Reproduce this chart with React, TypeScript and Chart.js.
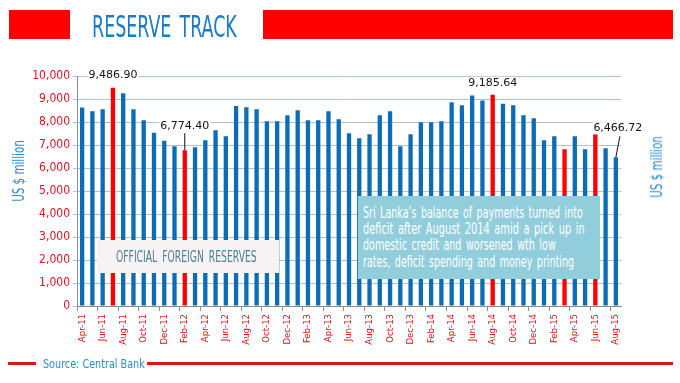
import React, { useEffect, useLayoutEffect, useRef } from "react";
import { Chart, registerables } from "chart.js";

Chart.register(...registerables);

const months: string[] = [
  "Apr-11", "May-11", "Jun-11", "Jul-11", "Aug-11", "Sep-11", "Oct-11", "Nov-11", "Dec-11",
  "Jan-12", "Feb-12", "Mar-12", "Apr-12", "May-12", "Jun-12", "Jul-12", "Aug-12", "Sep-12", "Oct-12", "Nov-12", "Dec-12",
  "Jan-13", "Feb-13", "Mar-13", "Apr-13", "May-13", "Jun-13", "Jul-13", "Aug-13", "Sep-13", "Oct-13", "Nov-13", "Dec-13",
  "Jan-14", "Feb-14", "Mar-14", "Apr-14", "May-14", "Jun-14", "Jul-14", "Aug-14", "Sep-14", "Oct-14", "Nov-14", "Dec-14",
  "Jan-15", "Feb-15", "Mar-15", "Apr-15", "May-15", "Jun-15", "Jul-15", "Aug-15",
];

const reserves: number[] = [
  8630, 8470, 8550, 9486.9, 9250, 8550, 8080, 7530, 7180,
  6950, 6774.4, 6900, 7210, 7640, 7380, 8700, 8640, 8550, 8030, 8030, 8290,
  8510, 8080, 8080, 8470, 8120, 7510, 7290, 7470, 8290, 8470, 6950, 7470,
  7990, 7990, 8030, 8860, 8730, 9150, 8940, 9185.64, 8790, 8730, 8290, 8160,
  7210, 7380, 6820, 7380, 6820, 7470, 6860, 6466.72,
];

const highlighted: string[] = ["Jul-11", "Feb-12", "Aug-14", "Mar-15", "Jun-15"];

const labelledMonths: string[] = ["Jul-11", "Feb-12", "Aug-14", "Aug-15"];
const labelTexts: string[] = ["9,486.90", "6,774.40", "9,185.64", "6,466.72"];

const yTicks: number[] = [0, 1000, 2000, 3000, 4000, 5000, 6000, 7000, 8000, 9000, 10000];

const titleText = "RESERVE TRACK";
const boxLabel = "OFFICIAL FOREIGN RESERVES";
const noteLines: string[] = [
  "Sri Lanka’s balance of payments turned into",
  "deficit after August 2014 amid a pick up in",
  "domestic credit and worsened wth low",
  "rates, deficit spending and money printing",
];
const axisTitleText = "US $ million";
const sourceText = "Source: Central Bank";

const BLUE = "#0d6cb6";
const RED = "#ff0000";
const TICK_RED = "#e3111b";
const GRID = "#a9c3dc";
const AXIS = "#8c8c8c";
const TITLE_BLUE = "#1b7cc0";
const LIGHT_BLUE_TEXT = "#2a8ad0";
const COND = '"DejaVu Sans Condensed", "DejaVu Sans", sans-serif';

// per-label placement (style only): text offset from bar top and optional leader line
const labelStyle: Record<string, { dx: number; dy: number; leader?: [number, number, number, number] }> = {
  "Jul-11": { dx: 0, dy: -13 },
  "Feb-12": { dx: 0, dy: -24, leader: [0, -17, 0, 0] },
  "Aug-14": { dx: 0, dy: -12 },
  "Aug-15": { dx: 2, dy: -29, leader: [4, -21, 0, 0] },
};

const labelPlugin = {
  id: "valueLabels",
  afterDatasetsDraw(chart: any) {
    const ctx = chart.ctx;
    const meta = chart.getDatasetMeta(0);
    ctx.save();
    ctx.font = '11px "DejaVu Sans", Verdana, sans-serif';
    ctx.textAlign = "center";
    ctx.textBaseline = "middle";
    labelledMonths.forEach((m, i) => {
      const idx = months.indexOf(m);
      const bar = meta.data[idx];
      if (!bar) return;
      const st = labelStyle[m];
      const tx = bar.x + st.dx;
      const ty = bar.y + st.dy;
      const text = labelTexts[i];
      const w = ctx.measureText(text).width;
      ctx.fillStyle = "#ffffff";
      ctx.fillRect(tx - w / 2 - 1, ty - 6, w + 2, 12);
      ctx.fillStyle = "#111111";
      ctx.fillText(text, tx, ty);
      if (st.leader) {
        ctx.strokeStyle = "#111111";
        ctx.lineWidth = 1;
        ctx.beginPath();
        ctx.moveTo(bar.x + st.leader[0], bar.y + st.leader[1]);
        ctx.lineTo(bar.x + st.leader[2], bar.y + st.leader[3]);
        ctx.stroke();
      }
    });
    ctx.restore();
  },
};

function FitText(props: { text: string; width: number; style?: React.CSSProperties; origin?: string }) {
  const ref = useRef<HTMLSpanElement | null>(null);
  useLayoutEffect(() => {
    const el = ref.current;
    if (!el) return;
    const w = el.offsetWidth;
    if (w > 0) el.style.transform = `scaleX(${props.width / w})`;
  }, [props.text, props.width]);
  return (
    <span
      ref={ref}
      style={{
        display: "inline-block",
        whiteSpace: "nowrap",
        fontFamily: COND,
        fontStretch: "condensed",
        transformOrigin: props.origin || "left center",
        ...props.style,
      }}
    >
      {props.text}
    </span>
  );
}

function RotatedTitle(props: { cx: number; cy: number }) {
  return (
    <div style={{ position: "absolute", left: props.cx, top: props.cy, width: 0, height: 0 }}>
      <div
        style={{
          position: "absolute",
          left: 0,
          top: 0,
          transform: "translate(-50%, -50%) rotate(-90deg)",
          lineHeight: "16px",
          whiteSpace: "nowrap",
        }}
      >
        <FitText
          text={axisTitleText}
          width={62}
          origin="center center"
          style={{ fontSize: 15, color: LIGHT_BLUE_TEXT }}
        />
      </div>
    </div>
  );
}

export default function App() {
  const ref = useRef<HTMLCanvasElement | null>(null);

  useEffect(() => {
    if (!ref.current) return;
    const chart = new Chart(ref.current, {
      type: "bar",
      data: {
        labels: months,
        datasets: [
          {
            data: reserves,
            backgroundColor: months.map((m) => (highlighted.includes(m) ? RED : BLUE)),
            barPercentage: 0.42,
            categoryPercentage: 1,
            borderWidth: 0,
          },
        ],
      },
      options: {
        responsive: false,
        animation: false,
        devicePixelRatio: 1,
        layout: { padding: { top: 76, right: 59, left: 0, bottom: 0 } },
        plugins: {
          legend: { display: false },
          tooltip: { enabled: false },
          title: { display: false },
        },
        scales: {
          x: {
            grid: {
              display: true,
              drawOnChartArea: false,
              drawTicks: true,
              tickLength: 5,
              offset: true,
              color: (c: any) => (c.index % 2 === 0 ? AXIS : "rgba(0,0,0,0)"),
            },
            border: { display: true, color: AXIS },
            ticks: {
              autoSkip: false,
              maxRotation: 90,
              minRotation: 90,
              padding: 3,
              color: TICK_RED,
              font: { family: COND, size: 9.5, style: "condensed" },
              callback: (_v: any, i: number) => (i % 2 === 0 ? months[i] : ""),
            },
            afterFit: (s: any) => {
              s.height = 77;
            },
          },
          y: {
            min: yTicks[0],
            max: yTicks[yTicks.length - 1],
            afterBuildTicks: (s: any) => {
              s.ticks = yTicks.map((v) => ({ value: v }));
            },
            ticks: {
              color: TICK_RED,
              font: { family: COND, size: 12, style: "condensed" },
              padding: 3,
              callback: (v: any) => Number(v).toLocaleString("en-US"),
            },
            grid: { color: GRID, tickLength: 4, drawTicks: true },
            border: { display: true, color: AXIS },
            afterFit: (s: any) => {
              s.width = 77;
            },
          },
        },
      },
      plugins: [labelPlugin],
    } as any);
    return () => chart.destroy();
  }, []);

  return (
    <div
      style={{
        position: "absolute",
        left: 0,
        top: 0,
        width: 680,
        height: 383,
        background: "#ffffff",
        overflow: "hidden",
      }}
    >
      <canvas ref={ref} width={680} height={383} style={{ position: "absolute", left: 0, top: 0 }} />

      {/* header */}
      <div style={{ position: "absolute", left: 9, top: 10, width: 61, height: 29, background: RED }} />
      <div style={{ position: "absolute", left: 92, top: 12, lineHeight: "30px", height: 30 }}>
        <FitText text={titleText} width={145} style={{ fontSize: 30, color: TITLE_BLUE, wordSpacing: 4 }} />
      </div>
      <div style={{ position: "absolute", left: 263, top: 10, width: 410, height: 29, background: RED }} />

      {/* axis titles */}
      <RotatedTitle cx={19} cy={171} />
      <RotatedTitle cx={657} cy={167} />

      {/* annotation boxes */}
      <div
        style={{
          position: "absolute",
          left: 97,
          top: 240,
          width: 182,
          height: 33,
          background: "#f8f3f3",
        }}
      />
      <div style={{ position: "absolute", left: 116, top: 240, lineHeight: "33px", height: 33 }}>
        <FitText text={boxLabel} width={141} style={{ fontSize: 15, color: "#4a8199", wordSpacing: 3 }} />
      </div>

      <div
        style={{
          position: "absolute",
          left: 358,
          top: 196,
          width: 242,
          height: 83,
          background: "#92cddc",
        }}
      />
      {noteLines.map((line, i) => (
        <div
          key={i}
          style={{ position: "absolute", left: 363, top: 205 + i * 16.2, lineHeight: "16.2px", height: 16.2 }}
        >
          <FitText
            text={line}
            width={[220, 222, 193, 211][i]}
            style={{ fontSize: 15, color: "#ffffff", wordSpacing: 2 }}
          />
        </div>
      ))}

      {/* source line */}
      <div style={{ position: "absolute", left: 8, top: 362, width: 28, height: 3, background: "#e0141c" }} />
      <div style={{ position: "absolute", left: 43, top: 354.5, lineHeight: "16px", height: 16 }}>
        <FitText text={sourceText} width={102} style={{ fontSize: 12.5, color: LIGHT_BLUE_TEXT }} />
      </div>
      <div style={{ position: "absolute", left: 147, top: 362, width: 526, height: 3, background: "#e0141c" }} />
    </div>
  );
}
